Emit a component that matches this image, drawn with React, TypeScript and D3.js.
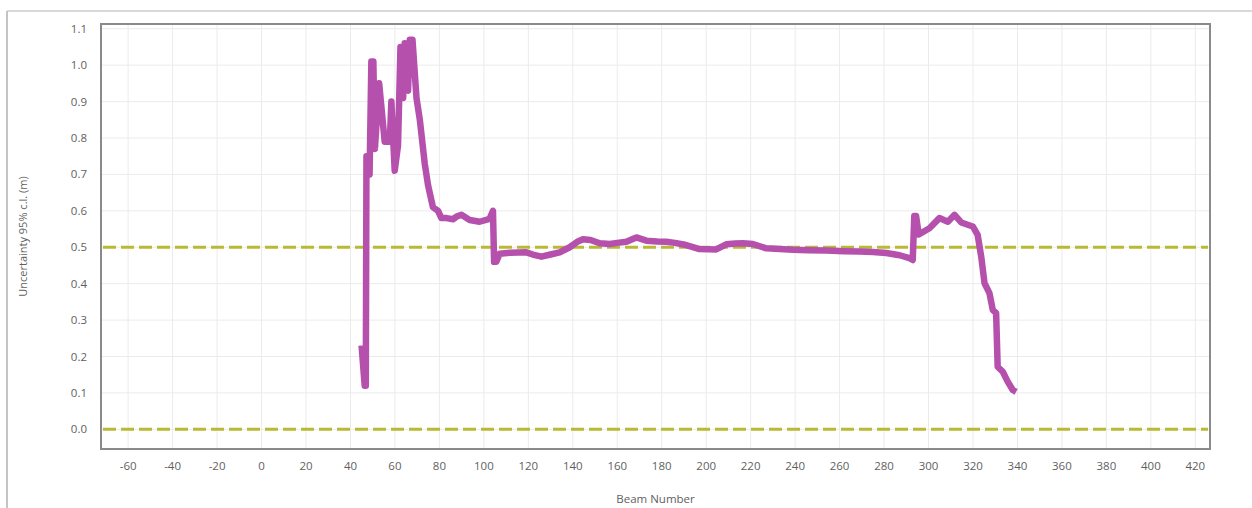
import React from "react";
import * as d3 from "d3";

const beamNumbers: number[] = [
  45.0, 46.4, 46.9, 47.2, 48.0, 48.6, 49.4, 50.3, 51.0, 52.9, 55.4, 57.7, 58.4, 59.9, 61.4, 62.5, 63.7, 64.4, 65.9, 66.7,
  67.9, 69.7, 71.2, 73.4, 74.9, 77.1, 79.4, 80.9, 83.2, 86.1, 88.0, 89.9, 93.6, 98.1, 102.6, 104.1, 104.6, 105.6, 107.1,
  112, 119.1, 122, 125.9, 130, 134.1, 138.6, 142, 144.6, 148, 152.1, 156.6, 160, 164.1, 168.6, 173.1, 178, 182, 186, 191,
  197, 204.5, 209, 213, 216.5, 221, 227, 233, 239, 246, 254, 262, 269, 275, 281, 287, 291.4, 292.9, 293.6, 294.4, 295.6,
  300.4, 304.9, 308.7, 311.7, 314.7, 319.9, 322.1, 323.7, 325.2, 327.4, 328.9, 330.4, 331.1, 333.4, 335.6, 337.9, 339.4,
];

const uncertainty: number[] = [
  0.23, 0.12, 0.12, 0.75, 0.74, 0.7, 1.01, 1.01, 0.77, 0.95, 0.79, 0.79, 0.9, 0.71, 0.78, 1.05, 0.91, 1.06, 0.93, 1.07,
  1.07, 0.91, 0.85, 0.73, 0.67, 0.61, 0.6, 0.58, 0.58, 0.577, 0.585, 0.589, 0.575, 0.57, 0.578, 0.6, 0.46, 0.46, 0.482,
  0.485, 0.486, 0.48, 0.474, 0.48, 0.486, 0.5, 0.515, 0.522, 0.52, 0.511, 0.509, 0.512, 0.515, 0.527, 0.518, 0.516, 0.515,
  0.512, 0.506, 0.495, 0.494, 0.508, 0.51, 0.511, 0.509, 0.497, 0.495, 0.493, 0.492, 0.491, 0.489, 0.488, 0.487, 0.484,
  0.478, 0.47, 0.465, 0.586, 0.586, 0.535, 0.552, 0.58, 0.57, 0.589, 0.568, 0.557, 0.534, 0.474, 0.401, 0.374, 0.328,
  0.319, 0.172, 0.158, 0.131, 0.108, 0.103,
];

const thresholdLines: number[] = [0.0, 0.5];
const xTicks: number[] = [-60, -40, -20, 0, 20, 40, 60, 80, 100, 120, 140, 160, 180, 200, 220, 240, 260, 280, 300, 320, 340, 360, 380, 400, 420];
const yTicks: number[] = [0.0, 0.1, 0.2, 0.3, 0.4, 0.5, 0.6, 0.7, 0.8, 0.9, 1.0, 1.1];
const xDomain: number[] = [-72.2, 426.6];
const yDomain: number[] = [-0.054, 1.113];
const xLabel = "Beam Number";
const yLabel = "Uncertainty 95% c.l. (m)";

const W = 1252;
const H = 508;
const L = 101, R = 1210, T = 24, B = 449;

export default function App() {
  const x = d3.scaleLinear().domain(xDomain).range([L, R]);
  const y = d3.scaleLinear().domain(yDomain).range([B, T]);
  const pts: [number, number][] = beamNumbers.map((b, i) => [b, uncertainty[i]]);
  const line = d3
    .line<[number, number]>()
    .x((d) => x(d[0]))
    .y((d) => y(d[1]));
  const font = "'Open Sans', 'DejaVu Sans', sans-serif";
  const fmt = d3.format(".1f");

  return (
    <svg width={W} height={H} style={{ position: "absolute", left: 0, top: 0, background: "#fff" }}>
      <rect x={0} y={0} width={W} height={H} fill="#fff" />
      {/* outer frame */}
      <line x1={7} x2={W} y1={11} y2={11} stroke="#cccccc" strokeWidth={1.5} />
      <line x1={7} x2={7} y1={11} y2={H} stroke="#c4c4c4" strokeWidth={2} />

      {/* grid */}
      {xTicks.map((t) => (
        <line key={"gx" + t} x1={x(t)} x2={x(t)} y1={T} y2={B} stroke="#ebebeb" strokeWidth={1} />
      ))}
      {yTicks.map((t) => (
        <line key={"gy" + t} x1={L} x2={R} y1={y(t)} y2={y(t)} stroke="#ebebeb" strokeWidth={1} />
      ))}

      {/* threshold dashed lines */}
      {thresholdLines.map((t) => (
        <line
          key={"th" + t}
          x1={L + 2}
          x2={R - 2}
          y1={y(t)}
          y2={y(t)}
          stroke="#b9b935"
          strokeWidth={3}
          strokeDasharray="13 5"
        />
      ))}

      {/* data line */}
      <path
        d={line(pts) || ""}
        fill="none"
        stroke="#b551ad"
        strokeWidth={6.5}
        strokeLinejoin="round"
        strokeLinecap="butt"
      />

      {/* plot border */}
      <rect x={L} y={T} width={R - L} height={B - T} fill="none" stroke="#8a8a8a" strokeWidth={2} />

      {/* y tick labels */}
      {yTicks.map((t) => (
        <text
          key={"ty" + t}
          x={87}
          y={y(t)}
          dy="0.35em"
          textAnchor="end"
          fontFamily={font}
          fontSize={11.5}
          fill="#5f5f5f"
        >
          {fmt(t)}
        </text>
      ))}

      {/* x tick labels */}
      {xTicks.map((t) => (
        <text
          key={"tx" + t}
          x={x(t)}
          y={466}
          dy="0.35em"
          textAnchor="middle"
          fontFamily={font}
          fontSize={11.5}
          fill="#5f5f5f"
        >
          {t}
        </text>
      ))}

      {/* axis labels */}
      <text x={(L + R) / 2} y={499} dy="0.35em" textAnchor="middle" fontFamily={font} fontSize={11.5} fill="#5f5f5f">
        {xLabel}
      </text>
      <text
        transform={`translate(23, ${(T + B) / 2}) rotate(-90)`}
        textAnchor="middle"
        dy="0.35em"
        fontFamily={font}
        fontSize={11}
        fill="#5f5f5f"
      >
        {yLabel}
      </text>
    </svg>
  );
}
